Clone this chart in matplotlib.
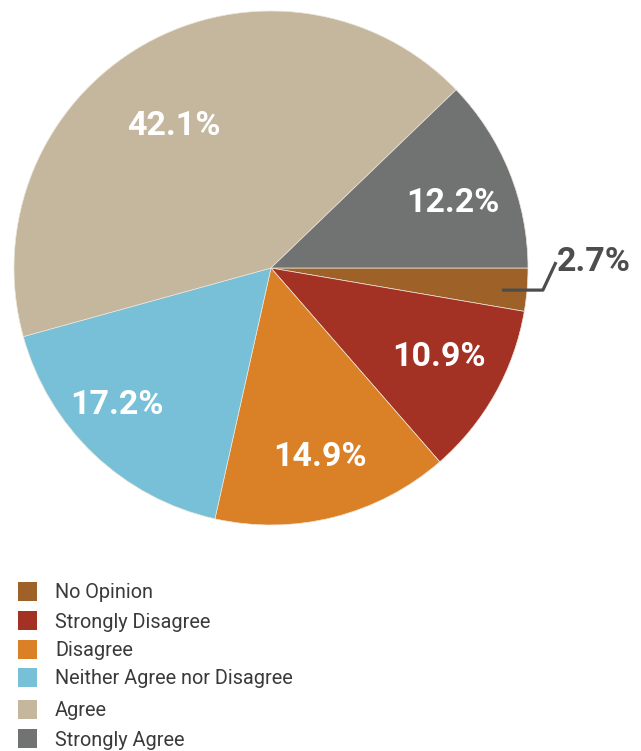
import numpy as np
import matplotlib
matplotlib.use("Agg")
import matplotlib.pyplot as plt
from matplotlib.patches import Rectangle

categories = ["No Opinion", "Strongly Disagree", "Disagree",
              "Neither Agree nor Disagree", "Agree", "Strongly Agree"]
values = [2.7, 10.9, 14.9, 17.2, 42.1, 12.2]
colors = ["#9E6128", "#A33224", "#DA8127", "#78C0D8", "#C4B79E", "#717272"]

# label placement styles (radius fraction, angle tweak in degrees)
label_r = [None, 0.74, 0.76, 0.80, 0.67, 0.75]
label_dtheta = [0, 1.3, 0.3, -4.8, 4.7, -2.3]

W, H = 641, 751
fig = plt.figure(figsize=(W / 100, H / 100), dpi=100)
cx, cy, R = 271, 268, 257
ax = fig.add_axes([(cx - R) / W, 1 - (cy + R) / H, 2 * R / W, 2 * R / H])

wedges, _ = ax.pie(values, colors=colors, startangle=0, counterclock=False,
                   radius=1.0, wedgeprops=dict(linewidth=0.5, edgecolor="#ece6da"))
ax.set_xlim(-1, 1)
ax.set_ylim(-1, 1)
ax.set_aspect("equal")
ax.axis("off")

bold = dict(family=["Roboto", "DejaVu Sans"], fontweight="bold", fontsize=24.5)
for i, w in enumerate(wedges):
    mid = np.deg2rad((w.theta1 + w.theta2) / 2 + label_dtheta[i])
    txt = f"{values[i]:.1f}%"
    if label_r[i] is None:
        y0 = -0.086
        ax.plot([0.899, 1.058, 1.109], [y0, y0, 0.023], color="#4d4d4d",
                lw=2.3, clip_on=False, solid_capstyle="butt")
        ax.text(1.113, 0.025, txt, ha="left", va="center", color="#4d4d4d",
                clip_on=False, **bold)
    else:
        r = label_r[i]
        ax.text(r * np.cos(mid), r * np.sin(mid), txt, ha="center",
                va="center", color="white", **bold)

# legend
rows_y = [591, 620, 649, 677, 709, 738]
for i, (cat, col) in enumerate(zip(categories, colors)):
    y = rows_y[i]
    fig.patches.append(Rectangle((18 / W, 1 - (y + 9.5) / H), 19 / W, 19 / H,
                                 transform=fig.transFigure, facecolor=col,
                                 edgecolor="none"))
    fig.text(55 / W, 1 - (y + 2) / H, cat, ha="left", va="center",
             family=["Roboto", "DejaVu Sans"], fontsize=14.3, color="#3a3a3a")

fig.savefig("out.png", dpi=100, facecolor="white")
